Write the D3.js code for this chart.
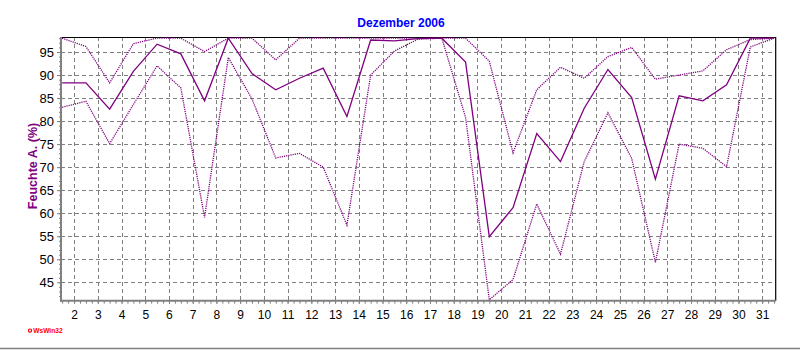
<!DOCTYPE html>
<html>
<head>
<meta charset="utf-8">
<script src="https://cdn.jsdelivr.net/npm/d3@7"></script>
<style>
  body { margin: 0; background: #fff; }
  svg { display: block; font-family: Arial, "Liberation Sans", sans-serif; }
</style>
</head>
<body>
<svg id="chart" width="800" height="350"></svg>
<script>
// Daily relative humidity, December 2006 (one value per day)
const days = [1, 2, 3, 4, 5, 6, 7, 8, 9, 10, 11, 12, 13, 14, 15, 16,
              17, 18, 19, 20, 21, 22, 23, 24, 25, 26, 27, 28, 29, 30, 31];
const humAvg = [88.3, 88.3, 82.6, 90.8, 96.7, 94.6, 84.4, 98.0, 90.3, 86.8, 89.3,
                91.5, 81.0, 97.6, 97.4, 97.9, 98.0, 92.8, 54.9, 61.2, 77.3, 71.2,
                82.8, 91.2, 85.1, 67.4, 85.5, 84.4, 87.9, 98.0, 98.0];
const humMax = [98.0, 96.2, 88.3, 96.8, 98.0, 98.0, 95.1, 98.0, 98.0, 93.3, 98.0,
                98.0, 98.0, 98.0, 98.0, 98.0, 98.0, 98.0, 93.0, 73.1, 86.8, 91.7,
                89.3, 94.0, 96.0, 89.1, 90.0, 90.9, 95.5, 97.7, 98.0];
const humMin = [83.0, 84.3, 75.1, 83.6, 92.0, 87.2, 59.1, 93.8, 84.8, 72.0, 73.0,
                70.0, 57.4, 90.0, 95.2, 97.8, 98.0, 80.8, 41.2, 45.6, 62.0, 51.1,
                71.2, 81.8, 71.9, 49.3, 75.0, 74.1, 70.1, 96.1, 98.0];
const yTicks = [45, 50, 55, 60, 65, 70, 75, 80, 85, 90, 95];
const xTicks = [2, 3, 4, 5, 6, 7, 8, 9, 10, 11, 12, 13, 14, 15, 16, 17,
                18, 19, 20, 21, 22, 23, 24, 25, 26, 27, 28, 29, 30, 31];
const chartTitle = "Dezember 2006";
const yTitle = "Feuchte A. (%)";
const logoText = "WsWin32";

const svg = d3.select("#chart");
const plot = { left: 61, right: 775.7, top: 37, bottom: 300.7 };
const lineColor = "#800080";
const gridColor = "#808080";
const NOON = 0.5; // daily values are placed in the middle of the day

const x = d3.scaleLinear().domain([1.45, 31.57]).range([plot.left, plot.right]);
const y = d3.scaleLinear().domain([41, 98.26]).range([plot.bottom, plot.top]);

// dashed grid
const grid = svg.append("g").attr("stroke", gridColor).attr("stroke-width", 1)
  .attr("stroke-dasharray", "4,3").attr("shape-rendering", "crispEdges");
grid.selectAll("line.v").data(xTicks).join("line").attr("class", "v")
  .attr("x1", d => Math.round(x(d)) + 0.5).attr("x2", d => Math.round(x(d)) + 0.5)
  .attr("y1", plot.top).attr("y2", plot.bottom);
grid.selectAll("line.h").data(yTicks).join("line").attr("class", "h")
  .attr("y1", d => Math.round(y(d)) + 0.5).attr("y2", d => Math.round(y(d)) + 0.5)
  .attr("x1", plot.left).attr("x2", plot.right);

// plot frame: black top and right edges
svg.append("path")
  .attr("d", `M${plot.left},${plot.top + 0.5}H${plot.right}V${plot.bottom}`)
  .attr("fill", "none").attr("stroke", "#000").attr("stroke-width", 1.2);

// series: dotted maximum and minimum, solid mean
const mk = arr => d3.line().x((d, i) => x(days[i] + NOON)).y(d => y(d))(arr);
const series = [
  { values: humMax, dash: "1.2,1", width: 1.3 },
  { values: humMin, dash: "1.2,1", width: 1.3 },
  { values: humAvg, dash: null, width: 1.3 }
];
svg.append("g").selectAll("path").data(series).join("path")
  .attr("d", s => mk(s.values))
  .attr("fill", "none")
  .attr("stroke", lineColor)
  .attr("stroke-width", s => s.width)
  .attr("stroke-dasharray", s => s.dash);

// left axis: minor ticks every unit, labelled majors every 5
const yAxisG = svg.append("g").attr("transform", `translate(${plot.left},0)`);
yAxisG.call(d3.axisLeft(y).tickValues(d3.range(42, 99)).tickSize(2).tickFormat(""))
  .call(g => g.select(".domain").remove())
  .call(g => g.selectAll("line").attr("stroke", gridColor));
const yLab = svg.append("g").attr("transform", `translate(${plot.left},0)`);
yLab.call(d3.axisLeft(y).tickValues(yTicks).tickSize(4).tickPadding(3))
  .call(g => g.select(".domain").remove())
  .call(g => g.selectAll("line").attr("stroke", gridColor))
  .call(g => g.selectAll("text").attr("fill", "#000")
    .style("font-family", "Arial, 'Liberation Sans', sans-serif").style("font-size", "13px"));

// bottom axis: minor ticks every quarter day, labelled days
const xAxisG = svg.append("g").attr("transform", `translate(0,${plot.bottom})`);
xAxisG.call(d3.axisBottom(x).tickValues(d3.range(1.5, 31.6, 0.25)).tickSize(3).tickFormat(""))
  .call(g => g.select(".domain").remove())
  .call(g => g.selectAll("line").attr("stroke", gridColor));
const xLab = svg.append("g").attr("transform", `translate(0,${plot.bottom})`);
xLab.call(d3.axisBottom(x).tickValues(xTicks).tickSize(3).tickPadding(7).tickFormat(d3.format("d")))
  .call(g => g.select(".domain").remove())
  .call(g => g.selectAll("line").attr("stroke", gridColor))
  .call(g => g.selectAll("text").attr("fill", "#000")
    .style("font-family", "Arial, 'Liberation Sans', sans-serif").style("font-size", "12px"));

// thick grey axis lines
svg.append("line").attr("x1", plot.left).attr("x2", plot.left)
  .attr("y1", plot.top).attr("y2", plot.bottom + 1)
  .attr("stroke", gridColor).attr("stroke-width", 2);
svg.append("line").attr("x1", plot.left - 1).attr("x2", plot.right)
  .attr("y1", plot.bottom).attr("y2", plot.bottom)
  .attr("stroke", gridColor).attr("stroke-width", 2);

// title
svg.append("text").attr("x", 401).attr("y", 27.3).attr("text-anchor", "middle")
  .attr("fill", "#0000ff").style("font-weight", "bold").style("font-size", "12px")
  .text(chartTitle);

// y-axis title
svg.append("text").attr("transform", "translate(36.7,166) rotate(-90)")
  .attr("text-anchor", "middle").attr("fill", lineColor)
  .style("font-weight", "bold").style("font-size", "12.5px")
  .text(yTitle);

// program mark
svg.append("circle").attr("cx", 30).attr("cy", 330.6).attr("r", 1.6)
  .attr("fill", "#fff").attr("stroke", "#ff0000").attr("stroke-width", 1.2);
svg.append("text").attr("x", 33.3).attr("y", 333.4).attr("fill", "#ff0000")
  .style("font-weight", "bold").style("font-size", "6.6px").text(logoText);

// bottom rule
svg.append("line").attr("x1", 0).attr("x2", 800).attr("y1", 348.5).attr("y2", 348.5)
  .attr("stroke", gridColor).attr("stroke-width", 1.5);
</script>
</body>
</html>
